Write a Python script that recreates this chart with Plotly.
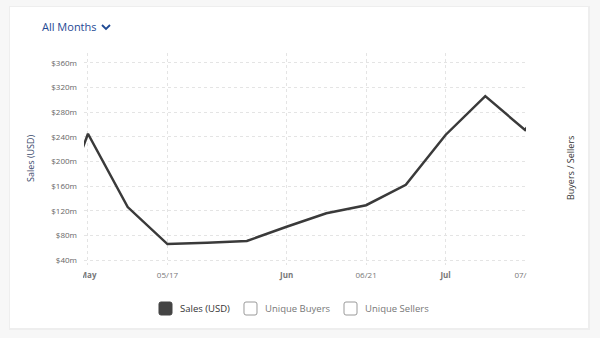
import plotly.graph_objects as go

# ---- data ----
weeks = ["04/26", "05/03", "05/10", "05/17", "05/24", "05/31", "06/07",
         "06/14", "06/21", "06/28", "07/05", "07/12", "07/19", "07/26"]
sales_musd = [70, 245, 126, 66, 68, 71, 94, 116, 129, 162, 243, 306, 251, 340]

tick_weeks = ["05/03", "05/17", "06/07", "06/21", "07/05", "07/19"]
tick_labels = ["<b>May</b>", "05/17", "<b>Jun</b>", "06/21", "<b>Jul</b>", "07/19"]

y_ticks = [40, 80, 120, 160, 200, 240, 280, 320, 360]
y_tick_labels = ["$40m", "$80m", "$120m", "$160m", "$200m", "$240m", "$280m", "$320m", "$360m"]

legend_names = ["Sales (USD)", "Unique Buyers", "Unique Sellers"]
legend_active = [True, False, False]

FONT = "Open Sans"
W, H = 600, 338
L, R, T, B = 84, 526, 53, 265


def px(x, y):
    return (x - L) / (R - L), (B - y) / (B - T)


def rect_path(x0, y0, x1, y1, r=2):
    pts = [
        ("M", x0 + r, y0), ("L", x1 - r, y0), ("Q", x1, y0, x1, y0 + r),
        ("L", x1, y1 - r), ("Q", x1, y1, x1 - r, y1), ("L", x0 + r, y1),
        ("Q", x0, y1, x0, y1 - r), ("L", x0, y0 + r), ("Q", x0, y0, x0 + r, y0),
    ]
    s = ""
    for p in pts:
        cmd = p[0]
        coords = p[1:]
        parts = []
        for i in range(0, len(coords), 2):
            a, b = px(coords[i], coords[i + 1])
            parts.append(f"{a:.5f},{b:.5f}")
        s += cmd + " ".join(parts) + " "
    return s + "Z"


fig = go.Figure()
fig.add_trace(go.Scatter(
    x=weeks, y=sales_musd, mode="lines",
    line=dict(color="#3a3a3a", width=2.5),
    name="Sales (USD)", showlegend=False, hoverinfo="skip",
))

shapes = []
# card shadow + card
sx0, sy0 = px(9, 6)
sx1, sy1 = px(590, 330)
shapes.append(dict(type="rect", xref="paper", yref="paper", x0=sx0, y0=sy1, x1=sx1, y1=sy0,
                   fillcolor="#eeeeee", line=dict(width=0), layer="below"))
cx0, cy0 = px(10, 7)
cx1, cy1 = px(588, 328)
shapes.append(dict(type="rect", xref="paper", yref="paper", x0=cx0, y0=cy1, x1=cx1, y1=cy0,
                   fillcolor="#ffffff", line=dict(width=0), layer="below"))

# clip masks for the edge tick labels
for (a, b, c, d) in [(60, 267, 83, 285), (527, 267, 545, 285)]:
    m0x, m0y = px(a, b)
    m1x, m1y = px(c, d)
    shapes.append(dict(type="rect", xref="paper", yref="paper", x0=m0x, y0=m1y, x1=m1x, y1=m0y,
                       fillcolor="#ffffff", line=dict(width=0), layer="above"))

# dropdown chevron
c1 = px(102, 25)
c2 = px(106, 29)
c3 = px(110, 25)
shapes.append(dict(type="path", xref="paper", yref="paper",
                   path=f"M{c1[0]},{c1[1]} L{c2[0]},{c2[1]} L{c3[0]},{c3[1]}",
                   line=dict(color="#1f4a94", width=1.8)))

annotations = []
ax, ay = px(40, 27)
annotations.append(dict(text="All Months", xref="paper", yref="paper", x=ax, y=ay,
                        xanchor="left", yanchor="middle", showarrow=False,
                        font=dict(family=FONT, size=11, color="#1f4a94")))
tx, ty = px(30, 158)
annotations.append(dict(text="Sales (USD)", xref="paper", yref="paper", x=tx, y=ty,
                        textangle=-90, showarrow=False, xanchor="center", yanchor="middle",
                        font=dict(family=FONT, size=9, color="#3b4a6b")))
tx, ty = px(570, 168)
annotations.append(dict(text="Buyers / Sellers", xref="paper", yref="paper", x=tx, y=ty,
                        textangle=-90, showarrow=False, xanchor="center", yanchor="middle",
                        font=dict(family=FONT, size=9, color="#333333")))

# legend (custom)
legend_x = [159, 244, 344]
for name, active, lx in zip(legend_names, legend_active, legend_x):
    shapes.append(dict(type="path", xref="paper", yref="paper",
                       path=rect_path(lx, 302, lx + 13, 315, 2),
                       fillcolor="#444444" if active else "#ffffff",
                       line=dict(color="#444444" if active else "#9a9a9a", width=1)))
    lxp, lyp = px(lx + 19, 308.5)
    annotations.append(dict(text=name, xref="paper", yref="paper", x=lxp, y=lyp,
                            xanchor="left", yanchor="middle", showarrow=False,
                            font=dict(family=FONT, size=9.5,
                                      color="#333333" if active else "#777777")))

fig.update_layout(
    width=W, height=H,
    margin=dict(l=L, r=W - R, t=T, b=H - B, pad=0),
    paper_bgcolor="#f7f7f7",
    plot_bgcolor="rgba(0,0,0,0)",
    showlegend=False,
    shapes=shapes,
    annotations=annotations,
    xaxis=dict(
        type="category", range=[0.9, 12.025],
        tickmode="array", tickvals=tick_weeks, ticktext=tick_labels,
        showgrid=True, gridcolor="#e4e4e4", griddash="dot", gridwidth=1,
        showline=False, zeroline=False, ticks="",
        tickfont=dict(family=FONT, size=8, color="#777777"),
        ticklabelstandoff=4,
    ),
    yaxis=dict(
        range=[32, 376],
        tickmode="array", tickvals=y_ticks, ticktext=y_tick_labels,
        showgrid=True, gridcolor="#e4e4e4", griddash="dot", gridwidth=1,
        showline=False, zeroline=False, ticks="",
        tickfont=dict(family=FONT, size=8, color="#666666"),
        ticklabelstandoff=6,
    ),
)

fig.write_html("out.html")
